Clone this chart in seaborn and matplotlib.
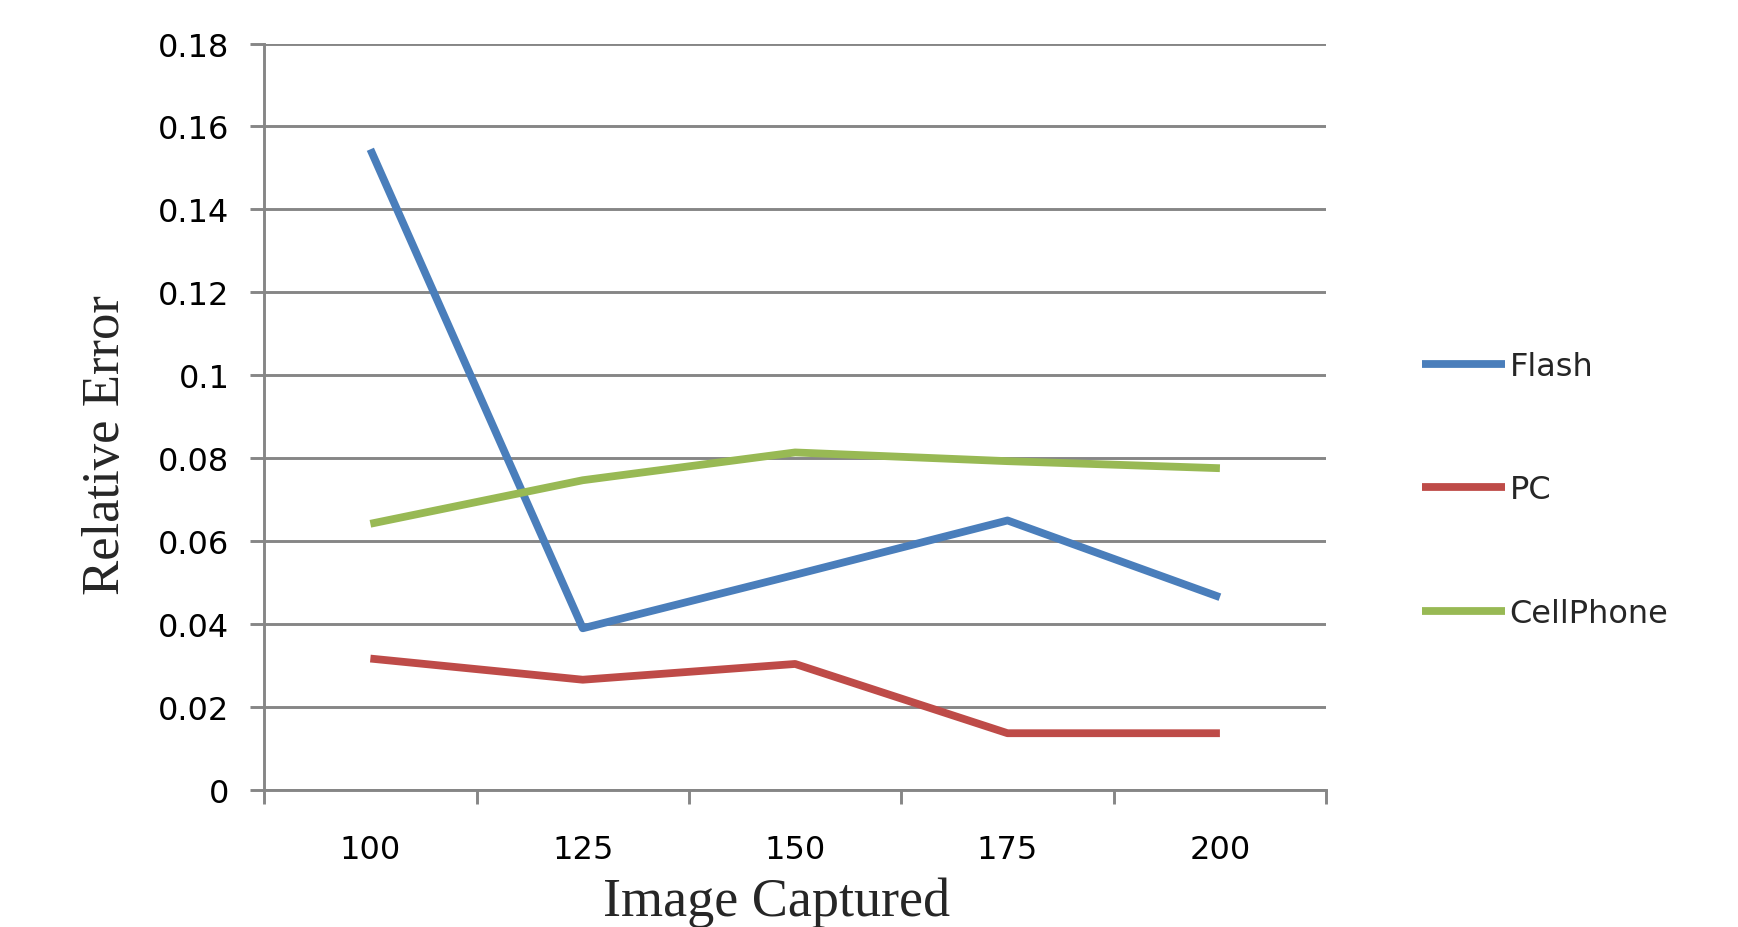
import pandas as pd
import matplotlib.pyplot as plt
import seaborn as sns
from matplotlib.ticker import FixedLocator, FormatStrFormatter

# data
images = ['100', '125', '150', '175', '200']
flash = [0.1545, 0.0390, 0.0519, 0.0650, 0.0465]
pc = [0.0317, 0.0266, 0.0304, 0.0137, 0.0137]
cellphone = [0.0642, 0.0747, 0.0814, 0.0793, 0.0776]
series = ['Flash', 'PC', 'CellPhone']
colors = ['#4A7EBB', '#BE4B48', '#98B954']
y_ticks = [0, 0.02, 0.04, 0.06, 0.08, 0.1, 0.12, 0.14, 0.16, 0.18]

df = pd.DataFrame({
    'Image Captured': images * 3,
    'Relative Error': flash + pc + cellphone,
    'Series': [s for s in series for _ in images],
})

sns.set_theme(style='white')
plt.rcParams['font.family'] = ['DejaVu Sans']
grid_gray = '#868686'

fig = plt.figure(figsize=(17.38, 9.28), dpi=100)
ax = fig.add_axes([0.152, 0.1476, 0.611, 0.8044])

sns.lineplot(
    data=df, x='Image Captured', y='Relative Error', hue='Series',
    hue_order=series, palette=colors, linewidth=5.6, sort=False,
    solid_capstyle='butt', ax=ax,
)

ax.set_xlim(-0.5, len(images) - 0.5)
ax.set_ylim(0, 0.18)
ax.set_yticks(y_ticks)
ax.yaxis.set_major_formatter(FormatStrFormatter('%g'))
ax.set_xticks(range(len(images)))
ax.set_xticklabels(images)
ax.xaxis.set_minor_locator(FixedLocator([i - 0.5 for i in range(len(images) + 1)]))

ax.grid(axis='y', color=grid_gray, linewidth=2.1)
ax.set_axisbelow(True)
for side in ['top', 'right']:
    ax.spines[side].set_visible(False)
for side in ['left', 'bottom']:
    ax.spines[side].set_color(grid_gray)
    ax.spines[side].set_linewidth(2.1)

ax.tick_params(axis='y', which='major', left=True, length=10, width=2.1,
               color=grid_gray, pad=15, labelsize=23, labelcolor='black')
ax.tick_params(axis='x', which='major', bottom=False, pad=26,
               labelsize=23, labelcolor='black')
ax.tick_params(axis='x', which='minor', bottom=True, length=10, width=2.1,
               color=grid_gray)

ax.set_xlabel('')
ax.set_ylabel('')
fig.text(0.447, 0.013, 'Image Captured', family='Liberation Serif',
         fontsize=39, ha='center', va='baseline')
fig.text(0.061, 0.52, 'Relative Error', family='Liberation Serif',
         fontsize=38, ha='center', va='center', rotation=90)

ax.legend(
    loc='center left', bbox_to_anchor=(0.818, 0.471),
    bbox_transform=fig.transFigure, frameon=False, fontsize=23,
    handlelength=2.6, handletextpad=0.15, labelspacing=2.9,
    borderpad=0, borderaxespad=0,
)

plt.savefig('out.png', dpi=100)
